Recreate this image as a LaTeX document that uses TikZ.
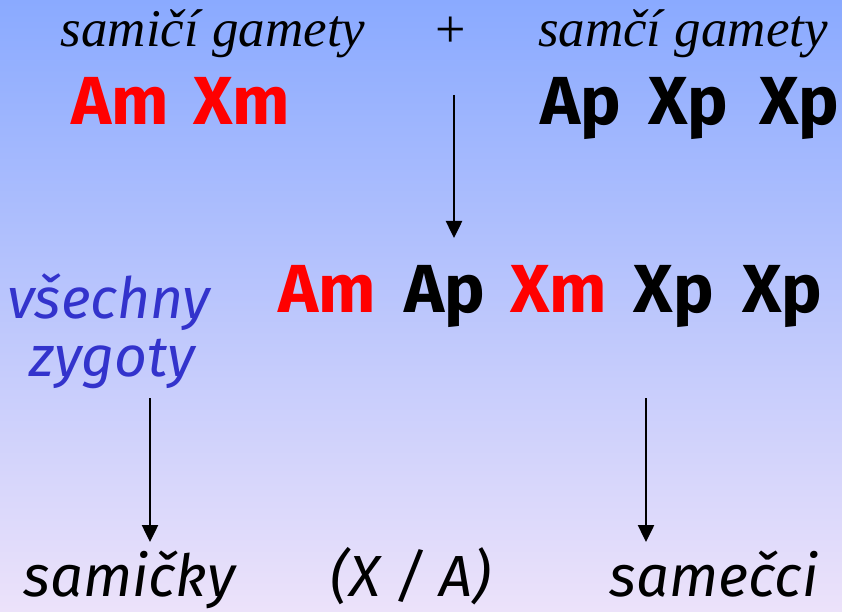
\documentclass[tikz,border=0pt]{standalone}
\usepackage{fontspec}
\setmainfont{Liberation Serif}
\newfontfamily\genefont{Fira Sans}
\usetikzlibrary{arrows.meta}
\definecolor{topblue}{RGB}{138,170,255}
\definecolor{botlilac}{RGB}{236,226,250}
\definecolor{zygblue}{RGB}{51,51,204}
\definecolor{genered}{RGB}{255,0,0}
\tikzset{
  x=1pt, y=1pt,
  every node/.style={inner sep=0pt},
  head/.style={anchor=base, font=\fontsize{53}{60}\selectfont\itshape},
  gene/.style={anchor=base, font=\genefont\fontsize{68}{76}\selectfont\bfseries},
  mat/.style={gene, text=genered},
  label/.style={anchor=base, font=\genefont\fontsize{57}{66}\selectfont\itshape},
  sex/.style={anchor=base, font=\genefont\fontsize{58}{66}\selectfont\itshape},
  flow/.style={line width=2.5pt, -{Triangle[length=17pt,width=16pt]}}
}
\begin{document}
\begin{tikzpicture}
  % gradient background and page frame
  \shade[top color=topblue, bottom color=botlilac] (0,0) rectangle (842,611);
  \useasboundingbox (0,0) rectangle (842,611);

  % gamete headings
  \node[head] (fhead) at (213,564) {samičí gamety};
  \node[anchor=center, font=\fontsize{54}{60}\selectfont] (plus) at (451,579) {+};
  \node[head] (mhead) at (683,564) {samčí gamety};

  % maternal gametes
  \node[mat] (am1) at (120,486) {Am};
  \node[mat] (xm1) at (241.5,486) {Xm};
  % paternal gametes
  \node[gene] (ap1) at (581,486) {Ap};
  \node[gene] (xp1a) at (688.5,486) {Xp};
  \node[gene] (xp1b) at (799.5,486) {Xp};

  % fertilisation arrow
  \coordinate (fs) at (454,516);
  \coordinate (fe) at (454,373);
  \draw[flow] (fs) -- (fe);

  % zygotes
  \node[label, text=zygblue] (all) at (109,293) {všechny};
  \node[label, text=zygblue] (zyg) at (112.5,235) {zygoty};
  \node[mat] (am2) at (327.5,299) {Am};
  \node[gene] (ap2) at (444.5,299) {Ap};
  \node[mat] (xm2) at (558.5,299) {Xm};
  \node[gene] (xp2a) at (674,299) {Xp};
  \node[gene] (xp2b) at (782.5,299) {Xp};

  % development arrows
  \coordinate (ls) at (150,213);
  \coordinate (le) at (150,69);
  \coordinate (rs) at (646,213);
  \coordinate (re) at (646,69);
  \draw[flow] (ls) -- (le);
  \draw[flow] (rs) -- (re);

  % offspring
  \node[sex] (fem) at (129.5,15) {samičky};
  \node[sex] (ratio) at (411,15) {(X / A)};
  \node[sex] (mal) at (714,15) {samečci};
\end{tikzpicture}
\end{document}
